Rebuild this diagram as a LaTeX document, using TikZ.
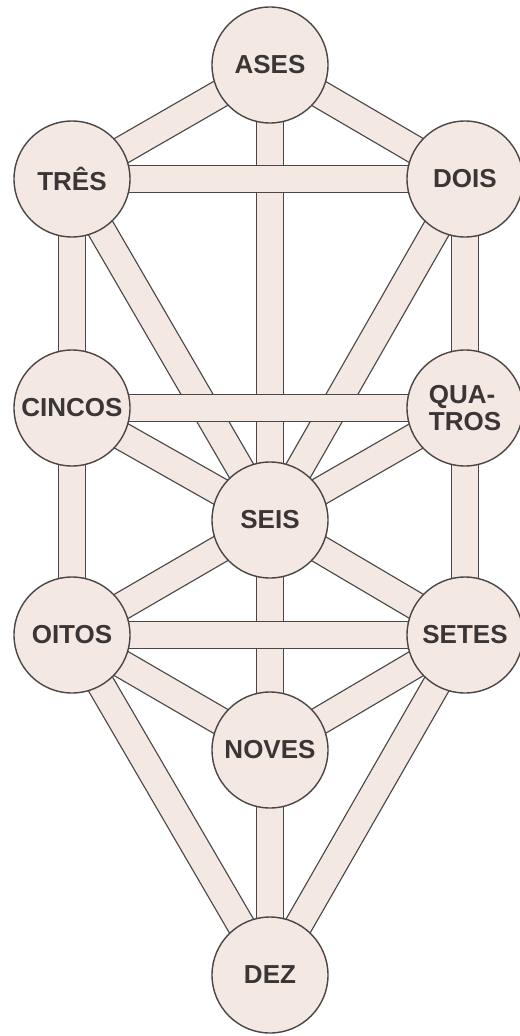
\documentclass[tikz,border=0pt]{standalone}
\usepackage{fontspec}
\setsansfont{Liberation Sans}
\usetikzlibrary{backgrounds}
\definecolor{pathpink}{HTML}{F4E8E3}
\definecolor{inkgray}{HTML}{4A4646}
\definecolor{labelgray}{HTML}{3A3636}
\tikzset{
  % Circles of the tree
  sephira/.style={
    circle, draw=inkgray, fill=pathpink, line width=1pt,
    minimum size=2.9cm, inner sep=0pt,
    font=\sffamily\bfseries\fontsize{18.5}{18}\selectfont, text=labelgray,
  },
  % Paths between circles — outlined bands
  band/.style={
    draw=inkgray, line width=0.9pt,
    double=pathpink, double distance=0.66cm,
  },
}
\begin{document}
\begin{tikzpicture}
  \useasboundingbox (0,0) rectangle (12.975,-25.9);

  % Circles
  \node[sephira] (ases)    at (6.75,-1.625)   {ASES};
  \node[sephira] (tres)    at (1.8,-4.475)    {TRÊS};
  \node[sephira] (dois)    at (11.625,-4.475) {DOIS};
  \node[sephira] (cincos)  at (1.8,-10.2)     {CINCOS};
  \node[sephira, align=left] (quatros) at (11.625,-10.2) {QUA-\\[1pt]TROS};
  \node[sephira] (seis)    at (6.75,-13.0)    {SEIS};
  \node[sephira] (oitos)   at (1.8,-15.875)   {OITOS};
  \node[sephira] (setes)   at (11.625,-15.875) {SETES};
  \node[sephira] (noves)   at (6.75,-18.75)   {NOVES};
  \node[sephira] (dez)     at (6.75,-24.375)  {DEZ};

  \begin{scope}[on background layer]
    % Vertical and diagonal paths
    \draw[band] (ases.center) -- (tres.center);
    \draw[band] (ases.center) -- (dois.center);
    \draw[band] (ases.center) -- (seis.center);
    \draw[band] (tres.center) -- (cincos.center);
    \draw[band] (dois.center) -- (quatros.center);
    \draw[band] (tres.center) -- (seis.center);
    \draw[band] (dois.center) -- (seis.center);
    \draw[band] (cincos.center) -- (seis.center);
    \draw[band] (quatros.center) -- (seis.center);
    \draw[band] (cincos.center) -- (oitos.center);
    \draw[band] (quatros.center) -- (setes.center);
    \draw[band] (seis.center) -- (oitos.center);
    \draw[band] (seis.center) -- (setes.center);
    \draw[band] (seis.center) -- (noves.center);
    \draw[band] (oitos.center) -- (noves.center);
    \draw[band] (setes.center) -- (noves.center);
    \draw[band] (oitos.center) -- (dez.center);
    \draw[band] (noves.center) -- (dez.center);
    \draw[band] (setes.center) -- (dez.center);
    % Horizontal paths lie on top
    \draw[band] (tres.center) -- (dois.center);
    \draw[band] (cincos.center) -- (quatros.center);
    \draw[band] (oitos.center) -- (setes.center);
  \end{scope}
\end{tikzpicture}
\end{document}
